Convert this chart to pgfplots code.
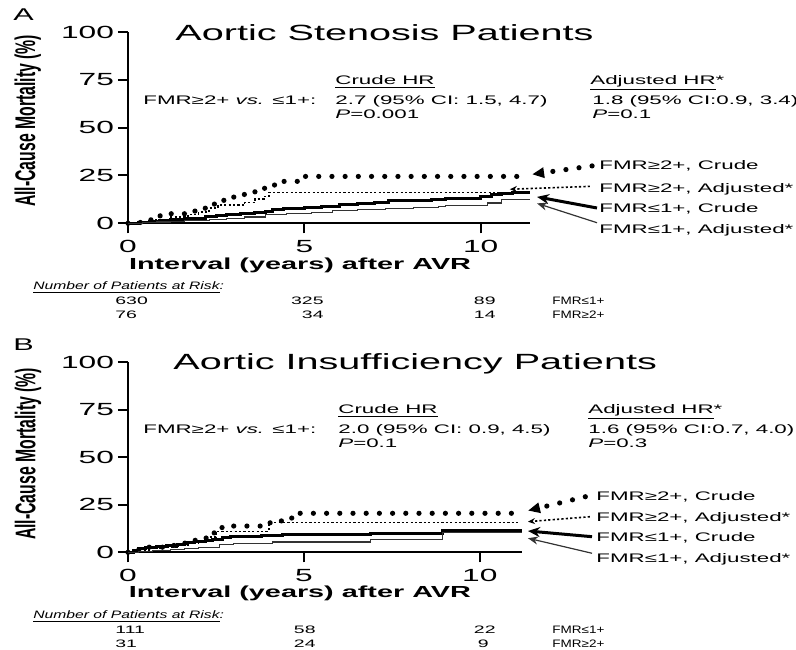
\documentclass[border=0pt]{standalone}
\usepackage{fontspec}
\setmainfont{Liberation Sans}
\newfontfamily\ylfont[FakeStretch=0.556]{Liberation Sans Bold}
\usepackage{graphicx}
\usepackage{pgfplots}
\pgfplotsset{compat=1.18}
\usetikzlibrary{arrows.meta}

% wide lettering used throughout the figure
\newcommand{\sx}[1]{\scalebox{1.8}[1]{#1}}
\newcommand{\fs}[1]{\fontsize{#1}{#1}\selectfont}
\newcommand{\tl}[1]{\sx{\fs{8.8}#1}}
\newcommand{\rk}[1]{\sx{\fs{5.4}#1}}
\newcommand{\rg}[1]{\scalebox{1.25}[1]{\fs{5.4}#1}}
% tall, narrow lettering for the rotated axis title
\newcommand{\yl}{{\ylfont\fs{14.2}All-Cause Mortality (\%)}}

\tikzset{
  crudeHi/.style={line width=2.6pt, dash pattern=on 0pt off 6.6pt, line cap=round},
  adjHi/.style={line width=0.8pt, dash pattern=on 1.1pt off 1.1pt},
  crudeLo/.style={line width=1.5pt},
  adjLo/.style={line width=0.6pt, black!80},
  txt/.style={anchor=base west, inner sep=0pt},
  txe/.style={anchor=base east, inner sep=0pt},
}

\pgfplotsset{
  km/.style={
    scale only axis, anchor=south west,
    xmin=0, ymin=0, ymax=100,
    axis x line*=bottom, axis y line*=left,
    axis line style={line width=1pt},
    tick align=outside, major tick length=5pt,
    every tick/.style={black, line width=1pt},
    xtick={0,5,10}, xticklabels={\tl{0},\tl{5},\tl{10}},
    ytick={0,25,50,75,100},
    yticklabels={\tl{0},\tl{25},\tl{50},\tl{75},\tl{100}},
    yticklabel style={xshift=1.5pt},
    clip=false,
    xlabel={\sx{\bfseries\fs{8}Interval (years) after AVR}},
    xlabel style={anchor=base},
    ylabel={\yl},
    ylabel style={anchor=center},
  }
}

\begin{document}
\begin{tikzpicture}
\useasboundingbox (0,0) rectangle (398pt,324.5pt);

% ---------------- Panel A: aortic stenosis ----------------
\begin{axis}[km, at={(64pt,212.85pt)}, width=201pt, height=95.65pt, xmax=11.4,
  xlabel style={at={(axis description cs:0.428,-0.239)}},
  ylabel style={at={(axis description cs:-0.249,0.535)}}]
\addplot[const plot, crudeHi] coordinates {(0,0)(0.35,1.3)(0.65,2.6)(0.9,3.9)(1.1,5.0)(1.75,6.4)(2.05,7.9)(2.3,9.2)(2.45,10.5)(2.65,12.0)(2.9,13.4)(3.0,14.5)(3.3,15.4)(3.6,16.5)(3.8,18.3)(4.0,20.0)(4.25,21.9)(4.8,24.5)(11.15,24.5)};
\addplot[const plot, adjHi] coordinates {(0,0)(0.4,1.0)(0.8,2.0)(1.2,3.2)(1.7,4.5)(2.0,5.8)(2.3,7.9)(2.55,9.5)(3.3,10.8)(3.6,12.7)(3.85,14.0)(4.0,16.2)(10.9,16.2)};
\addplot[const plot, crudeLo] coordinates {(0,0)(0.3,0.4)(0.6,0.9)(0.9,1.4)(1.2,1.9)(1.6,2.3)(2.0,2.7)(2.2,3.3)(2.5,4.0)(2.8,4.7)(3.2,5.3)(3.6,5.8)(3.9,6.3)(4.1,7.2)(4.4,7.9)(5.0,8.3)(5.5,8.9)(6.0,9.6)(6.5,10.2)(7.0,11.0)(7.4,11.8)(8.0,12.1)(8.6,12.5)(9.0,12.8)(9.6,13.2)(10.0,14.2)(10.3,15.0)(10.6,15.5)(10.9,16.2)(11.4,16.2)};
\addplot[const plot, adjLo] coordinates {(0,0)(0.4,0.3)(0.8,0.7)(1.2,1.0)(1.6,1.3)(2.0,1.6)(2.3,2.0)(2.8,2.6)(3.3,3.3)(3.9,4.4)(4.5,5.0)(5.2,5.7)(5.8,6.7)(6.5,7.3)(7.3,7.9)(8.1,8.3)(8.8,8.8)(9.0,9.3)(10.2,10.6)(10.6,12.3)(11.4,12.3)};
% leaders from the curve names
\draw[crudeHi, -{Triangle[length=6pt,width=5pt]}] (axis cs:13.16,30.0) -- (axis cs:11.46,25.6);
\draw[adjHi, -{Stealth[length=3.5pt,width=3pt]}] (axis cs:13.1,19.3) -- (axis cs:10.83,17.8);
\draw[crudeLo, -{Stealth[length=6pt,width=5pt]}] (axis cs:13.3,8.0) -- (axis cs:11.6,13.8);
\draw[adjLo, -{Stealth[length=5pt,width=4pt]}] (axis cs:13.3,0.3) -- (axis cs:11.6,10.4);
\end{axis}

% ---------------- Panel B: aortic insufficiency ----------------
\begin{axis}[km, at={(64pt,48.35pt)}, width=197pt, height=95.15pt, xmax=11.2,
  xlabel style={at={(axis description cs:0.4365,-0.240)}},
  ylabel style={at={(axis description cs:-0.254,0.517)}}]
\addplot[const plot, crudeHi] coordinates {(0,0)(0.3,1.3)(0.6,2.7)(1.0,3.6)(1.4,4.8)(1.65,6.3)(2.0,7.5)(2.3,8.4)(2.45,10.5)(2.6,13.0)(2.8,13.8)(3.9,15.5)(4.2,16.5)(4.5,18.0)(4.7,20.5)(11.05,20.5)};
\addplot[const plot, adjHi] coordinates {(0,0)(0.3,1.0)(0.6,2.0)(1.0,2.8)(1.4,3.8)(1.7,5.0)(2.0,6.2)(2.3,8.0)(2.5,11.0)(4.0,15.7)(11.15,15.7)};
\addplot[const plot, crudeLo] coordinates {(0,0)(0.15,0.9)(0.3,1.8)(0.5,2.4)(0.8,3.0)(1.1,3.6)(1.4,4.3)(1.6,4.9)(1.9,5.5)(2.2,6.2)(2.4,6.9)(2.7,7.6)(2.9,8.2)(3.8,8.8)(4.4,9.4)(6.9,9.9)(8.95,11.5)(11.2,11.5)};
\addplot[const plot, adjLo] coordinates {(0,0)(0.3,0.5)(0.7,1.1)(1.2,1.6)(1.6,2.1)(2.0,2.6)(2.6,3.9)(3.0,4.5)(4.1,5.4)(6.9,6.8)(8.95,10.2)(11.2,10.2)};
\draw[crudeHi, -{Triangle[length=6pt,width=5pt]}] (axis cs:13.0,29.2) -- (axis cs:11.37,21.9);
\draw[adjHi, -{Stealth[length=3.5pt,width=3pt]}] (axis cs:13.13,18.7) -- (axis cs:11.37,16.1);
\draw[crudeLo, -{Stealth[length=6pt,width=5pt]}] (axis cs:13.19,8.2) -- (axis cs:11.37,11.2);
\draw[adjLo, -{Stealth[length=5pt,width=4pt]}] (axis cs:13.19,-0.5) -- (axis cs:11.37,7.4);
\end{axis}

% ---------------- lettering (pixel grid, y downward) ----------------
\begin{scope}[shift={(0pt,324.5pt)}, x=0.5pt, y=-0.5pt]
% panel A
\node[txt, font=\fs{8.5}] at (13,21) {\sx{A}};
\node[txt, font=\fs{11}] at (175,41) {\sx{Aortic Stenosis Patients}};
\node[txt, font=\fs{6.2}] at (335,84.5) {\sx{\underline{Crude HR}}};
\node[txt, font=\fs{6.2}] at (590,84.5) {\sx{\underline{Adjusted HR}*}};
\node[txt, font=\fs{6.2}] at (143,104.5) {\sx{FMR≥2+ \textit{vs.} ≤1+:}};
\node[txt, font=\fs{6.2}] at (335,104.5) {\sx{2.7 (95\% CI: 1.5, 4.7)}};
\node[txt, font=\fs{6.2}] at (335,118.5) {\sx{\textit{P}=0.001}};
\node[txt, font=\fs{6.2}] at (592,104.5) {\sx{1.8 (95\% CI:0.9, 3.4)}};
\node[txt, font=\fs{6.2}] at (592,118.5) {\sx{\textit{P}=0.1}};
\node[txt, font=\fs{6.2}] at (599,169) {\sx{FMR≥2+, Crude}};
\node[txt, font=\fs{6.2}] at (599,192) {\sx{FMR≥2+, Adjusted*}};
\node[txt, font=\fs{6.2}] at (599,212) {\sx{FMR≤1+, Crude}};
\node[txt, font=\fs{6.2}] at (599,233) {\sx{FMR≤1+, Adjusted*}};
\node[txt] at (33,289) {\scalebox{1.45}[1]{\fs{5.4}\textit{\underline{Number of Patients at Risk}:}}};
\node[txt] at (115,304) {\rk{630}};
\node[txe] at (324,304) {\rk{325}};
\node[txe] at (496,304) {\rk{89}};
\node[txt] at (552,304) {\rg{FMR≤1+}};
\node[txt] at (115,318) {\rk{76}};
\node[txe] at (324,318) {\rk{34}};
\node[txe] at (496,318) {\rk{14}};
\node[txt] at (552,318) {\rg{FMR≥2+}};
% panel B
\node[txt, font=\fs{8.5}] at (13,350) {\sx{B}};
\node[txt, font=\fs{11}] at (173,369) {\sx{Aortic Insufficiency Patients}};
\node[txt, font=\fs{6.2}] at (338,413.5) {\sx{\underline{Crude HR}}};
\node[txt, font=\fs{6.2}] at (588,413.5) {\sx{\underline{Adjusted HR}*}};
\node[txt, font=\fs{6.2}] at (143,433.5) {\sx{FMR≥2+ \textit{vs.} ≤1+:}};
\node[txt, font=\fs{6.2}] at (338,433.5) {\sx{2.0 (95\% CI: 0.9, 4.5)}};
\node[txt, font=\fs{6.2}] at (338,447.5) {\sx{\textit{P}=0.1}};
\node[txt, font=\fs{6.2}] at (588,433.5) {\sx{1.6 (95\% CI:0.7, 4.0)}};
\node[txt, font=\fs{6.2}] at (588,447.5) {\sx{\textit{P}=0.3}};
\node[txt, font=\fs{6.2}] at (596,500) {\sx{FMR≥2+, Crude}};
\node[txt, font=\fs{6.2}] at (596,521) {\sx{FMR≥2+, Adjusted*}};
\node[txt, font=\fs{6.2}] at (596,541.7) {\sx{FMR≤1+, Crude}};
\node[txt, font=\fs{6.2}] at (596,562.7) {\sx{FMR≤1+, Adjusted*}};
\node[txt] at (33,618) {\scalebox{1.45}[1]{\fs{5.4}\textit{\underline{Number of Patients at Risk}:}}};
\node[txt] at (115,633) {\rk{111}};
\node[txe] at (316,633) {\rk{58}};
\node[txe] at (496,633) {\rk{22}};
\node[txt] at (552,633) {\rg{FMR≤1+}};
\node[txt] at (115,647) {\rk{31}};
\node[txe] at (316,647) {\rk{24}};
\node[txe] at (489,647) {\rk{9}};
\node[txt] at (552,647) {\rg{FMR≥2+}};
\end{scope}
\end{tikzpicture}
\end{document}
